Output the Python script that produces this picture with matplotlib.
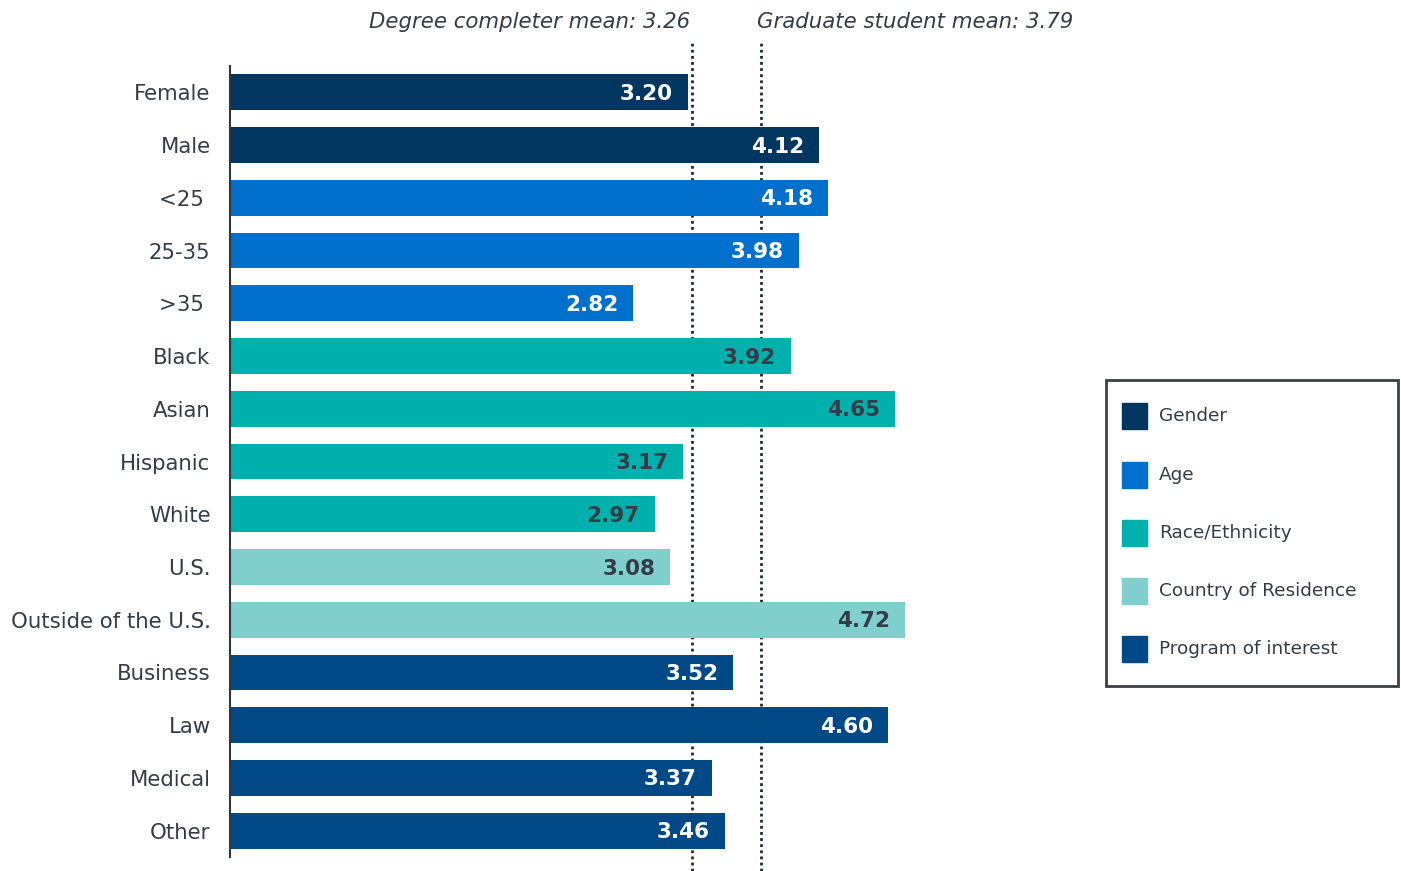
import matplotlib
matplotlib.use("Agg")
import matplotlib.pyplot as plt
from matplotlib.patches import Rectangle

# ---- data ----
categories = ["Female", "Male", "<25 ", "25-35", ">35 ", "Black", "Asian", "Hispanic",
              "White", "U.S.", "Outside of the U.S.", "Business", "Law", "Medical", "Other"]
values = [3.20, 4.12, 4.18, 3.98, 2.82, 3.92, 4.65, 3.17, 2.97, 3.08, 4.72, 3.52, 4.60, 3.37, 3.46]
groups = ["Gender", "Gender", "Age", "Age", "Age", "Race/Ethnicity", "Race/Ethnicity",
          "Race/Ethnicity", "Race/Ethnicity", "Country of Residence", "Country of Residence",
          "Program of interest", "Program of interest", "Program of interest", "Program of interest"]
group_names = ["Gender", "Age", "Race/Ethnicity", "Country of Residence", "Program of interest"]
mean_labels = ["Degree completer mean: 3.26", "Graduate student mean: 3.79"]
mean_line_x = [3.23, 3.71]  # where the dotted lines are drawn in the picture

# ---- styles ----
group_colors = {"Gender": "#00365F", "Age": "#0070CC", "Race/Ethnicity": "#00B0AD",
                "Country of Residence": "#80CFCC", "Program of interest": "#004987"}
light_groups = {"Race/Ethnicity", "Country of Residence"}
text_dark = "#333D47"

W, H = 1401, 871
fig = plt.figure(figsize=(W / 100, H / 100), dpi=100)
ax = fig.add_axes([230 / W, (H - 857) / H, 858 / W, 791 / H])

y = list(range(len(categories)))
ax.barh(y, values, height=0.68, color=[group_colors[g] for g in groups], zorder=3)
ax.set_ylim(len(categories) - 0.5, -0.5)
ax.set_xlim(0, 6)

# dotted mean lines (behind bars, extend beyond axes)
y_top = -0.5 - 26 / 52.73
y_bot = len(categories) - 0.5 + 14 / 52.73
for mx in mean_line_x:
    ax.vlines(mx, y_bot, y_top, colors="#1B2A3A", linestyles=(0, (1, 1.2)), linewidth=2,
              clip_on=False, zorder=1)

# mean labels
fig.text(690 / W, 1 - 22 / H, mean_labels[0], ha="right", va="center",
         fontsize=15.3, style="italic", color=text_dark)
fig.text(757 / W, 1 - 22 / H, mean_labels[1], ha="left", va="center",
         fontsize=15.3, style="italic", color=text_dark)

# value labels
for yi, v, g in zip(y, values, groups):
    c = text_dark if g in light_groups else "white"
    ax.annotate(f"{v:.2f}", (v, yi + 0.03), xytext=(-15, 0), textcoords="offset pixels",
                ha="right", va="center", fontsize=15.5, fontweight="bold", color=c, zorder=4)

# axes styling
for s in ["top", "right", "bottom"]:
    ax.spines[s].set_visible(False)
ax.spines["left"].set_color("#2E3640")
ax.spines["left"].set_linewidth(1.5)
ax.spines["left"].set_zorder(5)
ax.set_xticks([])
ax.set_yticks(y)
ax.set_yticklabels(categories, fontsize=15.3, color=text_dark)
ax.tick_params(axis="y", length=0, pad=14)

# legend box (manual)
lx0, ly0, lx1, ly1 = 1106, 380, 1398, 686
fig.patches.append(Rectangle((lx0 / W, 1 - ly1 / H), (lx1 - lx0) / W, (ly1 - ly0) / H,
                             transform=fig.transFigure, fill=False, edgecolor="#3A4048",
                             linewidth=2))
row_y = [416, 475, 533, 591, 649]
for gname, ry in zip(group_names, row_y):
    fig.patches.append(Rectangle((1122 / W, 1 - (ry + 13) / H), 25 / W, 26 / H,
                                 transform=fig.transFigure, color=group_colors[gname]))
    fig.text(1159 / W, 1 - ry / H, gname, ha="left", va="center", fontsize=13.3,
             color=text_dark)

fig.savefig("out.png", dpi=100)
